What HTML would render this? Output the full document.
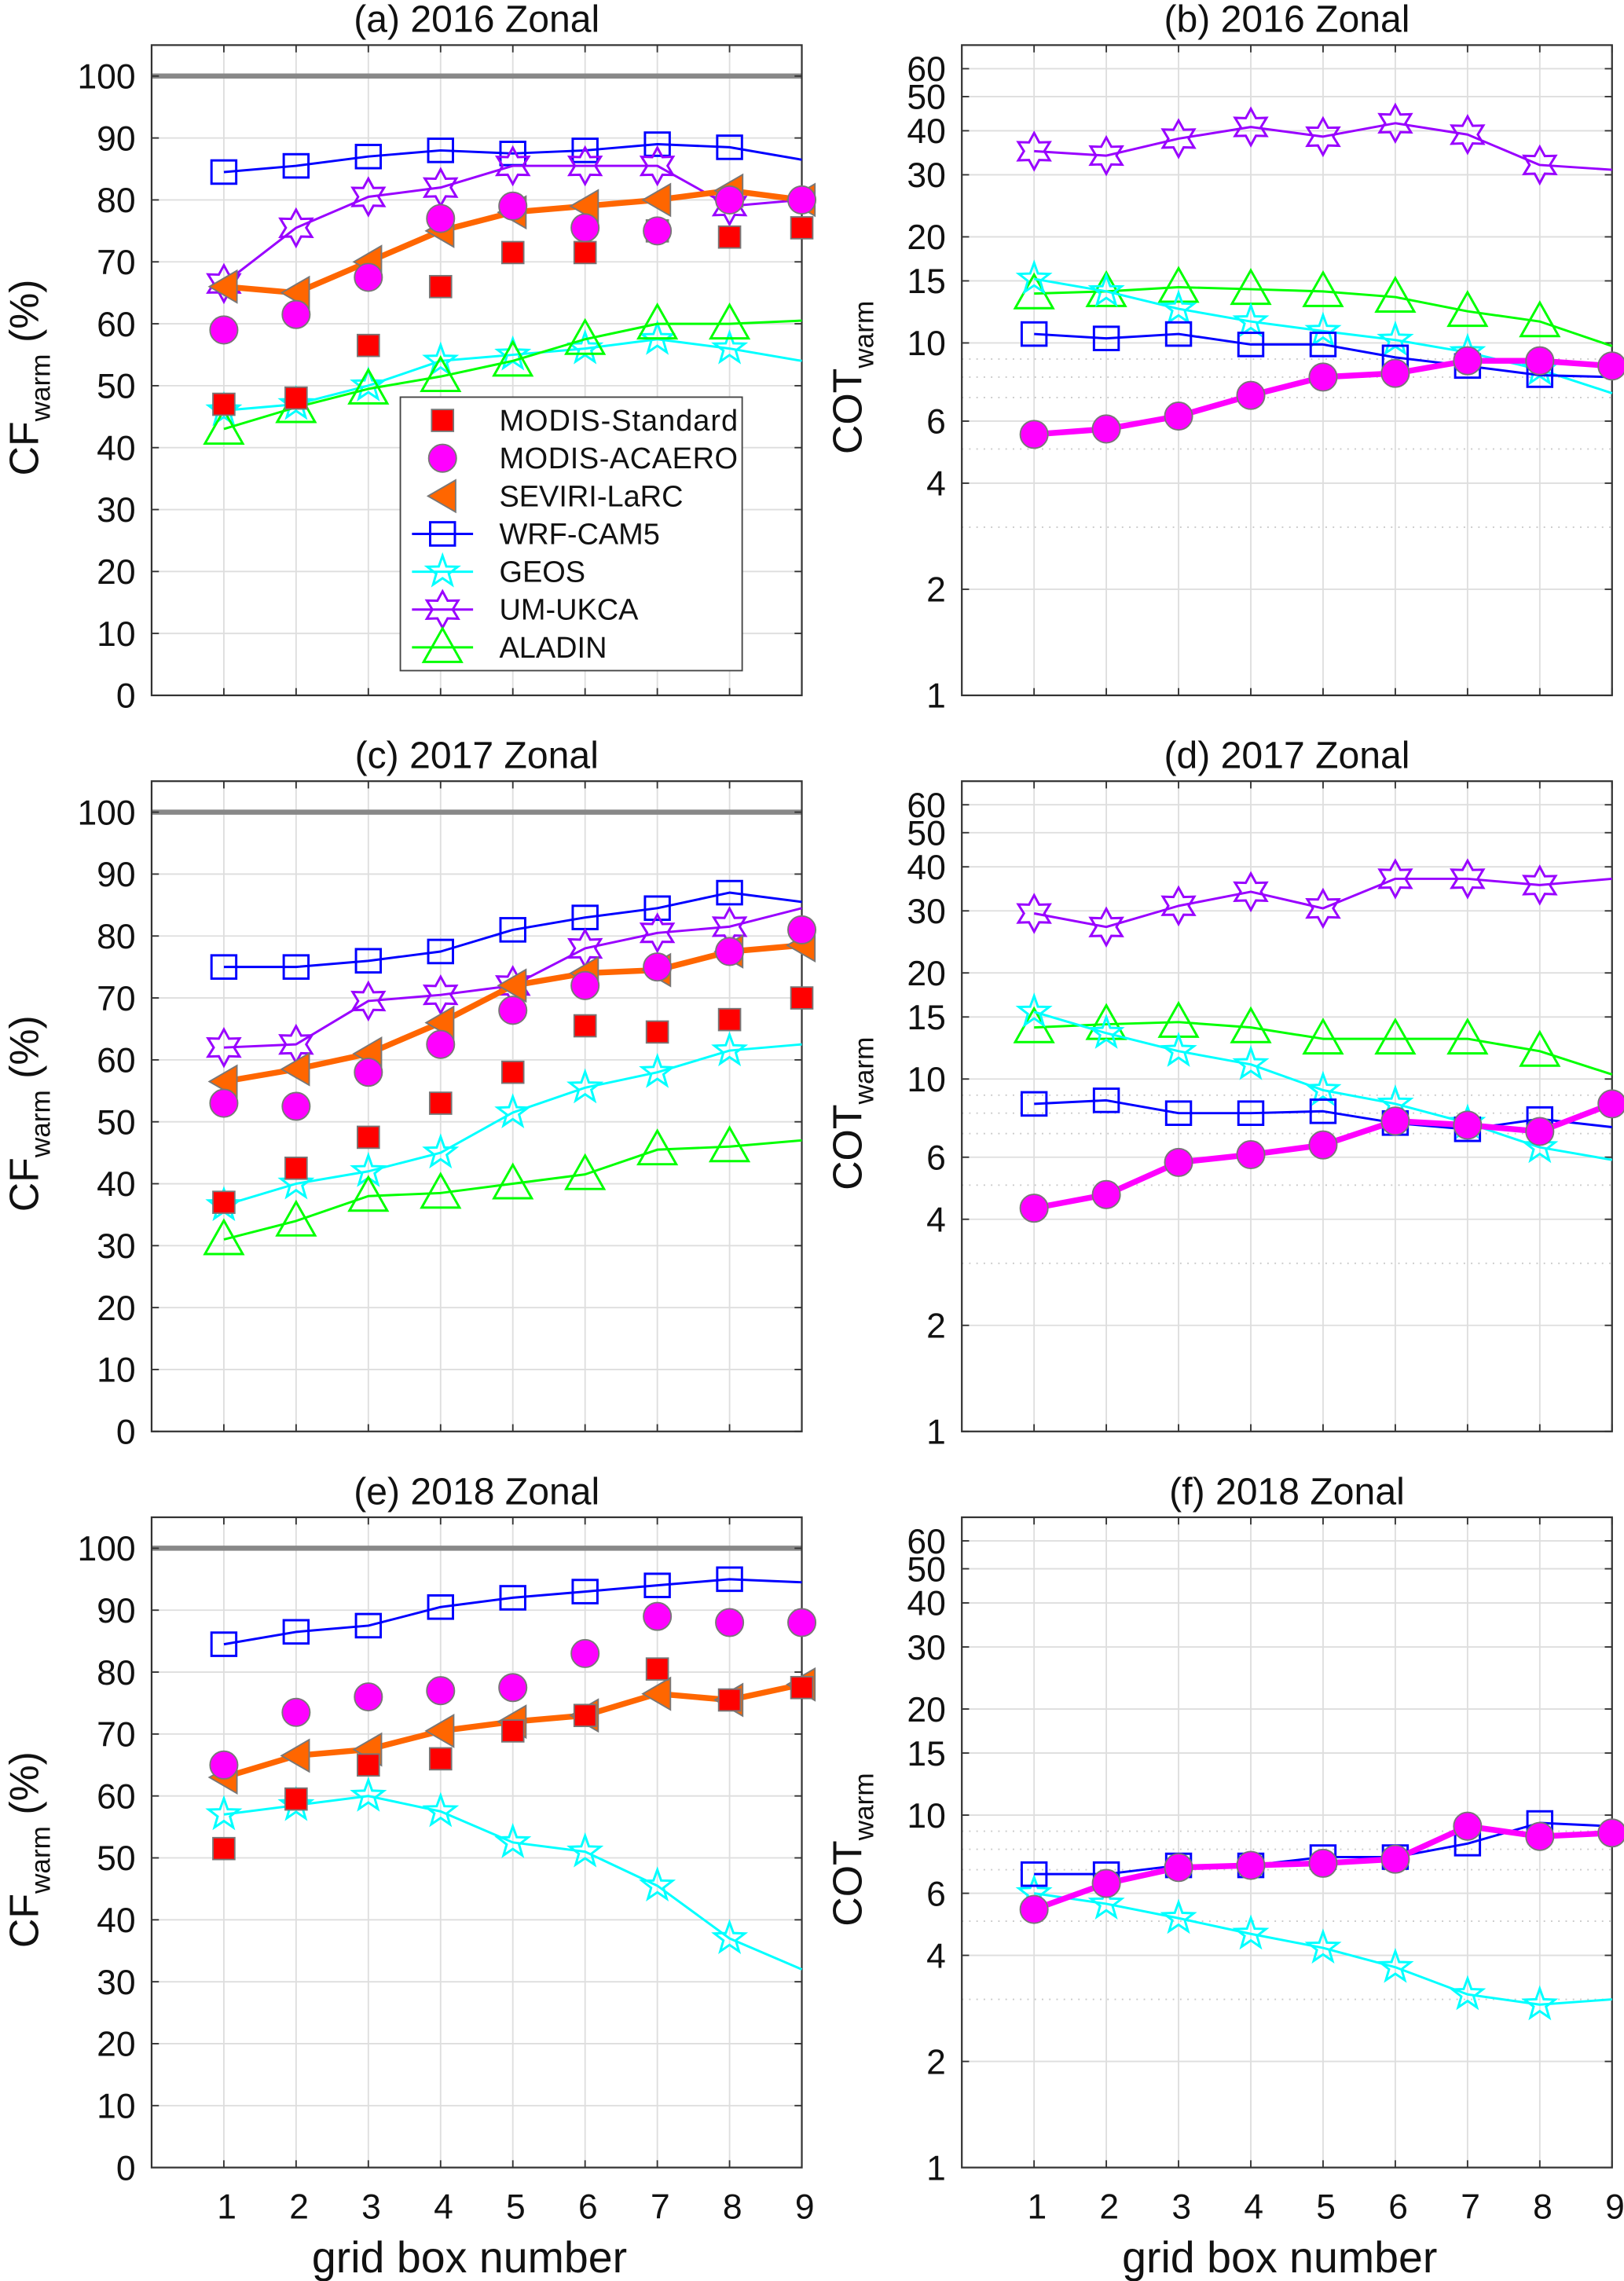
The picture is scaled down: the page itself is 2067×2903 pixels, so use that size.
<!DOCTYPE html>
<html><head><meta charset="utf-8"><style>
html,body{margin:0;padding:0;background:#fff}
svg{display:block}
text{font-family:"Liberation Sans",Arial,sans-serif;fill:#111}
</style></head><body>
<svg id="fig" width="2067" height="2903" viewBox="0 0 1116 1568" xmlns="http://www.w3.org/2000/svg"></svg>
<script>
const xCats=[1,2,3,4,5,6,7,8,9];
const cfTicks=[0,10,20,30,40,50,60,70,80,90,100];
const cotTicks=[1,2,4,6,10,15,20,30,40,50,60];
const cotMinor=[3,5,7,8,9];
// Panel a
const a_std=[47,48,56.5,66,71.5,71.5,75,74,75.5];
const a_aca=[59,61.5,67.5,77,79,75.5,75,80,80];
const a_sev=[66,65,70,75,78,79,80,81.5,80];
const a_wrf=[84.5,85.5,87,88,87.5,88,89,88.5,86.5];
const a_geos=[46,47,50,54,55,56,57.5,56,54];
const a_um=[66.5,75.5,80.5,82,85.5,85.5,85.5,79,80];
const a_ala=[43,46.5,49.5,51.5,54,57.5,60,60,60.5];
// Panel b
const b_aca=[5.5,5.7,6.2,7.1,8.0,8.2,8.9,8.9,8.6];
const b_wrf=[10.6,10.3,10.6,9.9,9.9,9.1,8.6,8.1,8.0];
const b_geos=[15.2,14.0,12.5,11.5,10.8,10.2,9.4,8.4,7.2];
const b_um=[35,34,38,41,38.5,42,39,32,31];
const b_ala=[13.8,14.0,14.4,14.2,14.0,13.5,12.3,11.5,9.8];
// Panel c
const c_std=[37,42.5,47.5,53,58,65.5,64.5,66.5,70];
const c_aca=[53,52.5,58,62.5,68,72,75,77.5,81];
const c_sev=[56.5,58.5,61,66,72,74,74.5,77.5,78.5];
const c_wrf=[75,75,76,77.5,81,83,84.5,87,85.5];
const c_geos=[36.5,40,42,45,51.5,55.5,58,61.5,62.5];
const c_um=[62,62.5,69.5,70.5,72,78,80.5,81.5,84.5];
const c_ala=[31,34,38,38.5,40,41.5,45.5,46,47];
// Panel d
const d_aca=[4.3,4.7,5.8,6.1,6.5,7.6,7.4,7.1,8.5];
const d_wrf=[8.5,8.7,8.0,8.0,8.1,7.5,7.2,7.7,7.3];
const d_geos=[15.5,13.5,12,11,9.3,8.5,7.5,6.4,5.9];
const d_um=[29.5,27,31,34,30.5,37,37,35.5,37];
const d_ala=[14,14.3,14.5,14,13,13,13,12,10.3];
// Panel e
const e_std=[51.5,59.5,65,66,70.5,73,80.5,75.5,77.5];
const e_aca=[65,73.5,76,77,77.5,83,89,88,88];
const e_sev=[63,66.5,67.5,70.5,72,73,76.5,75.5,78];
const e_wrf=[84.5,86.5,87.5,90.5,92,93,94,95,94.5];
const e_geos=[57,58.5,60,57.5,52.5,51,45.5,37,32];
// Panel f
const f_aca=[5.4,6.4,7.1,7.2,7.3,7.5,9.3,8.7,8.9];
const f_wrf=[6.8,6.8,7.2,7.2,7.6,7.6,8.3,9.5,9.3];
const f_geos=[6.0,5.6,5.1,4.6,4.2,3.7,3.1,2.9,3.0];

const NS="http://www.w3.org/2000/svg";
const svg=document.getElementById('fig');
function mk(tag,at,parent){const e=document.createElementNS(NS,tag);for(const k in at)e.setAttribute(k,at[k]);(parent||svg).appendChild(e);return e;}
const C={std:'#ff0000',aca:'#ff00ff',sev:'#ff6600',wrf:'#0000ff',geos:'#00ffff',um:'#9900ff',ala:'#00ff00'};

function marker(g,type,cx,cy,name){
  let e;
  if(type==='sq'){e=mk('rect',{x:cx-7.5,y:cy-7.5,width:15,height:15,fill:C.std,stroke:'#777','stroke-width':1},g);}
  else if(type==='ci'){e=mk('circle',{cx:cx,cy:cy,r:9.5,fill:C.aca,stroke:'#777','stroke-width':1},g);}
  else if(type==='lt'){e=mk('polygon',{points:`${cx-10},${cy} ${cx+9},${cy-11} ${cx+9},${cy+11}`,fill:C.sev,stroke:'#777','stroke-width':1},g);}
  else if(type==='osq'){e=mk('rect',{x:cx-8.5,y:cy-8,width:17,height:16,fill:'none',stroke:C.wrf,'stroke-width':1.6},g);}
  else if(type==='star5'){let p=[];for(let i=0;i<10;i++){const r=i%2?4.5:11,a=-Math.PI/2+i*Math.PI/5;p.push((cx+r*Math.cos(a)).toFixed(1)+','+(cy+r*Math.sin(a)).toFixed(1));}
    e=mk('polygon',{points:p.join(' '),fill:'none',stroke:C.geos,'stroke-width':1.6},g);}
  else if(type==='star6'){let p=[];for(let i=0;i<12;i++){const r=i%2?7:12.5,a=-Math.PI/2+i*Math.PI/6;p.push((cx+r*Math.cos(a)).toFixed(1)+','+(cy+r*Math.sin(a)).toFixed(1));}
    e=mk('polygon',{points:p.join(' '),fill:'none',stroke:C.um,'stroke-width':1.6},g);}
  else if(type==='tri'){e=mk('polygon',{points:`${cx},${cy-13} ${cx+13},${cy+10} ${cx-13},${cy+10}`,fill:'none',stroke:C.ala,'stroke-width':1.6},g);}
  
  
}

function panel(opt){
  const L=opt.left,R=opt.right,T=opt.top,B=opt.bottom;
  const xs=v=>L+(R-L)*v/9;
  let ys;
  if(opt.log){const lo=0,hi=Math.log10(70);ys=v=>B-(B-T)*(Math.log10(v)-lo)/(hi-lo);}
  else ys=v=>B-(B-T)*v/105;
  const g=mk('g',{});
  
  
  xCats.forEach(x=>{const l=mk('line',{x1:xs(x),x2:xs(x),y1:T,y2:B,stroke:'#dedede','stroke-width':1},g);
    });
  const ticks=opt.log?cotTicks:cfTicks;
  ticks.forEach(t=>{const l=mk('line',{x1:L,x2:R,y1:ys(t),y2:ys(t),stroke:'#dedede','stroke-width':1},g);
    });
  if(opt.log)cotMinor.forEach(t=>{const l=mk('line',{x1:L,x2:R,y1:ys(t),y2:ys(t),stroke:'#c8c8c8','stroke-width':1,'stroke-dasharray':'1,4'},g);
    });
  if(!opt.log){const l=mk('line',{x1:L,x2:R,y1:ys(100),y2:ys(100),stroke:'#888','stroke-width':3.5},g);
    }
  const bx=mk('rect',{x:L,y:T,width:R-L,height:B-T,fill:'none',stroke:'#333','stroke-width':1.2},g);
  
  xCats.forEach(x=>{mk('line',{x1:xs(x),x2:xs(x),y1:B,y2:B-5,stroke:'#333','stroke-width':1},g);mk('line',{x1:xs(x),x2:xs(x),y1:T,y2:T+5,stroke:'#333','stroke-width':1},g);
    if(opt.xlabels){const t=mk('text',{x:xs(x)+2,y:B+35,'text-anchor':'middle','font-size':24},g);t.textContent=x;
      }});
  ticks.forEach(v=>{mk('line',{x1:L,x2:L+5,y1:ys(v),y2:ys(v),stroke:'#333','stroke-width':1},g);mk('line',{x1:R,x2:R-5,y1:ys(v),y2:ys(v),stroke:'#333','stroke-width':1},g);
    const t=mk('text',{x:L-11,y:ys(v)+8.5,'text-anchor':'end','font-size':24},g);t.textContent=v;
    });
  const tt=mk('text',{x:(L+R)/2,y:T-9,'text-anchor':'middle','font-size':26},g);tt.textContent=opt.title;
  
  const yl=mk('text',{transform:`translate(${opt.log?592:26},${(T+B)/2+5}) rotate(-90)`,'text-anchor':'middle','font-size':28},g);
  if(opt.log){yl.innerHTML='COT<tspan font-size="19" dy="8">warm</tspan>';}
  else{yl.innerHTML='CF<tspan font-size="19" dy="8">warm</tspan><tspan dy="-8"> (%)</tspan>';}
  
  if(opt.xlabels){const xl=mk('text',{x:(L+R)/2-5,y:B+72,'text-anchor':'middle','font-size':30},g);xl.textContent='grid box number';
    }
  opt.series.forEach(s=>{
    const sg=mk('g',{},g);
    
    
    if(s.line){const pts=s.data.map((v,i)=>xs(xCats[i]).toFixed(1)+','+ys(v).toFixed(1)).join(' ');
      const pl=mk('polyline',{points:pts,fill:'none',stroke:C[s.key],'stroke-width':s.w||1.6,'stroke-linejoin':'round'},sg);
      }
    const n=s.lastMarker?s.data.length:s.data.length-1;
    s.data.forEach((v,i)=>{if(i<n)marker(sg,s.m,xs(xCats[i]),ys(v),s.key+'-point');});
  });
  return g;
}
const L1=104,R1=551,L2=661,R2=1108;
const rows=[[31,478],[537,984],[1043,1490]];
panel({name:'panel-a',title:'(a) 2016 Zonal',left:L1,right:R1,top:rows[0][0],bottom:rows[0][1],series:[
 {key:'wrf',data:a_wrf,line:1,m:'osq'},{key:'geos',data:a_geos,line:1,m:'star5'},{key:'um',data:a_um,line:1,m:'star6'},{key:'ala',data:a_ala,line:1,m:'tri'},
 {key:'sev',data:a_sev,line:1,w:4,m:'lt',lastMarker:1},{key:'std',data:a_std,m:'sq',lastMarker:1},{key:'aca',data:a_aca,m:'ci',lastMarker:1}]});
panel({name:'panel-b',log:1,title:'(b) 2016 Zonal',left:L2,right:R2,top:rows[0][0],bottom:rows[0][1],series:[
 {key:'um',data:b_um,line:1,m:'star6'},{key:'ala',data:b_ala,line:1,m:'tri'},{key:'geos',data:b_geos,line:1,m:'star5'},{key:'wrf',data:b_wrf,line:1,m:'osq'},
 {key:'aca',data:b_aca,line:1,w:4,m:'ci',lastMarker:1}]});
panel({name:'panel-c',title:'(c) 2017 Zonal',left:L1,right:R1,top:rows[1][0],bottom:rows[1][1],series:[
 {key:'wrf',data:c_wrf,line:1,m:'osq'},{key:'geos',data:c_geos,line:1,m:'star5'},{key:'um',data:c_um,line:1,m:'star6'},{key:'ala',data:c_ala,line:1,m:'tri'},
 {key:'sev',data:c_sev,line:1,w:4,m:'lt',lastMarker:1},{key:'std',data:c_std,m:'sq',lastMarker:1},{key:'aca',data:c_aca,m:'ci',lastMarker:1}]});
panel({name:'panel-d',log:1,title:'(d) 2017 Zonal',left:L2,right:R2,top:rows[1][0],bottom:rows[1][1],series:[
 {key:'um',data:d_um,line:1,m:'star6'},{key:'ala',data:d_ala,line:1,m:'tri'},{key:'geos',data:d_geos,line:1,m:'star5'},{key:'wrf',data:d_wrf,line:1,m:'osq'},
 {key:'aca',data:d_aca,line:1,w:4,m:'ci',lastMarker:1}]});
panel({name:'panel-e',xlabels:1,title:'(e) 2018 Zonal',left:L1,right:R1,top:rows[2][0],bottom:rows[2][1],series:[
 {key:'wrf',data:e_wrf,line:1,m:'osq'},{key:'geos',data:e_geos,line:1,m:'star5'},
 {key:'sev',data:e_sev,line:1,w:4,m:'lt',lastMarker:1},{key:'std',data:e_std,m:'sq',lastMarker:1},{key:'aca',data:e_aca,m:'ci',lastMarker:1}]});
panel({name:'panel-f',log:1,xlabels:1,title:'(f) 2018 Zonal',left:L2,right:R2,top:rows[2][0],bottom:rows[2][1],series:[
 {key:'geos',data:f_geos,line:1,m:'star5'},{key:'wrf',data:f_wrf,line:1,m:'osq'},
 {key:'aca',data:f_aca,line:1,w:4,m:'ci',lastMarker:1}]});

const lg=mk('g',{});


mk('rect',{x:275,y:273,width:235,height:188,fill:'#fff',stroke:'#444','stroke-width':1},lg);
const legNames=['MODIS-Standard','MODIS-ACAERO','SEVIRI-LaRC','WRF-CAM5','GEOS','UM-UKCA','ALADIN'];
const legKeys=['std','aca','sev','wrf','geos','um','ala'];
const legM=['sq','ci','lt','osq','star5','star6','tri'];
legNames.forEach((nm,i)=>{
  const y=289+i*26;
  const eg=mk('g',{},lg);
  
  
  if(i>=3)mk('line',{x1:283,x2:325,y1:y,y2:y,stroke:C[legKeys[i]],'stroke-width':1.6},eg);
  marker(eg,legM[i],304,y,'legend-marker');
  const t=mk('text',{x:343,y:y+7,'font-size':20.5,textLength:nm.length>11?164:null},eg);t.textContent=nm;
  
});
</script>
</body></html>
